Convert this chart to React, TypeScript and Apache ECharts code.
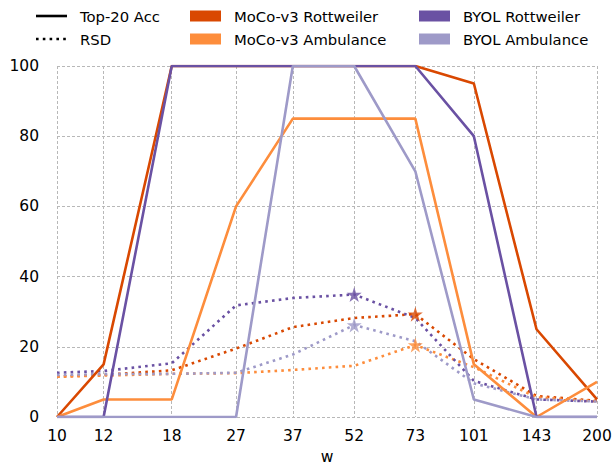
import React, { useEffect, useRef } from "react";
import * as echarts from "echarts";

// w positions (as plotted on the log axis) and their tick labels
const wValues = [10, 12.95, 18.9, 27, 37, 52, 73, 101, 143, 200];
const tickLabels = ["10", "12", "18", "27", "37", "52", "73", "101", "143", "200"];

// Top-20 accuracy (solid)
const accMocoRott = [0, 15, 100, 100, 100, 100, 100, 95, 25, 5];
const accMocoAmb = [0, 5, 5, 60, 85, 85, 85, 15, 0, 10];
const accByolRott = [0, 0, 100, 100, 100, 100, 100, 80, 0, 0];
const accByolAmb = [0, 0, 0, 0, 100, 100, 70, 5, 0, 0];

// RSD (dotted)
const rsdMocoRott = [11.5, 12, 13.3, 19.5, 25.6, 28.2, 29.3, 16.5, 6.0, 4.6];
const rsdMocoAmb = [11.5, 11.8, 12.3, 12.5, 13.4, 14.6, 20.5, 14.2, 5.6, 4.5];
const rsdByolRott = [12.6, 13.1, 15.3, 31.8, 33.9, 34.9, 28.2, 10.3, 5.0, 4.4];
const rsdByolAmb = [12.0, 12.2, 12.3, 12.6, 17.8, 26.2, 21.6, 9.6, 5.0, 4.4];

const names = ["MoCo-v3 Rottweiler", "MoCo-v3 Ambulance", "BYOL Rottweiler", "BYOL Ambulance"];
const colors = ["#d94801", "#fd8d3c", "#6a51a3", "#9e9ac8"];
const accSets = [accMocoRott, accMocoAmb, accByolRott, accByolAmb];
const rsdSets = [rsdMocoRott, rsdMocoAmb, rsdByolRott, rsdByolAmb];

const yTicks = [0, 20, 40, 60, 80, 100];

const STAR =
  "path://M50,0 L61.2,34.5 L97.6,34.5 L68.2,55.9 L79.4,90.5 L50,69.1 L20.6,90.5 L31.8,55.9 L2.4,34.5 L38.8,34.5 Z";

const FONT = "DejaVu Sans";

export default function App() {
  const ref = useRef<HTMLDivElement>(null);

  useEffect(() => {
    if (!ref.current) return;
    const chart = echarts.init(ref.current, undefined, { renderer: "svg" });
    const lx = wValues.map((w) => Math.log10(w));
    const pts = (arr: number[]) => arr.map((v, i) => [lx[i], v]);

    const series: any[] = [];
    rsdSets.forEach((arr, k) => {
      series.push({
        type: "line",
        name: names[k] + " RSD",
        data: pts(arr),
        symbol: "none",
        lineStyle: { color: colors[k], width: 2.6, type: [2.6, 4.2], cap: "butt" },
        z: 2,
      });
      let mi = 0;
      arr.forEach((v, i) => {
        if (v > arr[mi]) mi = i;
      });
      series.push({
        type: "scatter",
        name: names[k] + " max",
        data: [[lx[mi], arr[mi]]],
        symbol: STAR,
        symbolSize: 15,
        itemStyle: { color: colors[k] },
        z: 4,
      });
    });
    accSets.forEach((arr, k) => {
      series.push({
        type: "line",
        name: names[k],
        data: pts(arr),
        symbol: "none",
        lineStyle: { color: colors[k], width: 2.6 },
        z: 3,
      });
    });

    const legendFont = `14.8px '${FONT}'`;
    const rowY = [16, 39];
    const legendGraphics: any[] = [];
    legendGraphics.push(
      { type: "line", shape: { x1: 36, y1: rowY[0], x2: 67, y2: rowY[0] }, style: { stroke: "#000", lineWidth: 2.6 } },
      { type: "text", x: 80, y: rowY[0], style: { text: "Top-20 Acc", font: legendFont, fill: "#000", textVerticalAlign: "middle" } },
      { type: "line", shape: { x1: 36, y1: rowY[1], x2: 67, y2: rowY[1] }, style: { stroke: "#000", lineWidth: 2.6, lineDash: [2.6, 4.2] } },
      { type: "text", x: 80, y: rowY[1], style: { text: "RSD", font: legendFont, fill: "#000", textVerticalAlign: "middle" } }
    );
    const colX = [190, 419];
    names.forEach((n, k) => {
      const cx = colX[Math.floor(k / 2)];
      const cy = rowY[k % 2];
      legendGraphics.push(
        { type: "rect", shape: { x: cx, y: cy - 5.5, width: 31, height: 11 }, style: { fill: colors[k] } },
        { type: "text", x: cx + 44, y: cy, style: { text: n, font: legendFont, fill: "#000", textVerticalAlign: "middle" } }
      );
    });

    chart.setOption({
      animation: false,
      backgroundColor: "#fff",
      textStyle: { fontFamily: FONT },
      grid: { left: 57, right: 16, top: 66, bottom: 48, containLabel: false, outerBoundsMode: "none" },
      xAxis: {
        type: "value",
        min: lx[0],
        max: lx[lx.length - 1],
        name: "w",
        nameLocation: "middle",
        nameGap: 31,
        nameTextStyle: { fontSize: 15.5, color: "#000", fontFamily: FONT },
        axisLine: { show: false },
        axisTick: { show: false, customValues: lx },
        axisLabel: {
          customValues: lx,
          fontSize: 15.5,
          color: "#000",
          margin: 11,
          fontFamily: FONT,
          formatter: (v: number) => {
            let best = 0;
            lx.forEach((x, i) => {
              if (Math.abs(x - v) < Math.abs(lx[best] - v)) best = i;
            });
            return tickLabels[best];
          },
        },
        splitLine: { show: true, lineStyle: { color: "#b8b8b8", type: [3, 2], width: 1 } },
      },
      yAxis: {
        type: "value",
        min: yTicks[0],
        max: yTicks[yTicks.length - 1],
        interval: 20,
        axisLine: { show: false },
        axisTick: { show: false },
        axisLabel: { fontSize: 15.5, color: "#000", margin: 18, fontFamily: FONT },
        splitLine: { show: true, lineStyle: { color: "#b8b8b8", type: [3, 2], width: 1 } },
      },
      graphic: legendGraphics,
      series,
    });
    return () => chart.dispose();
  }, []);

  return (
    <div
      ref={ref}
      style={{ position: "absolute", left: 0, top: 0, width: 613, height: 465 }}
    />
  );
}
